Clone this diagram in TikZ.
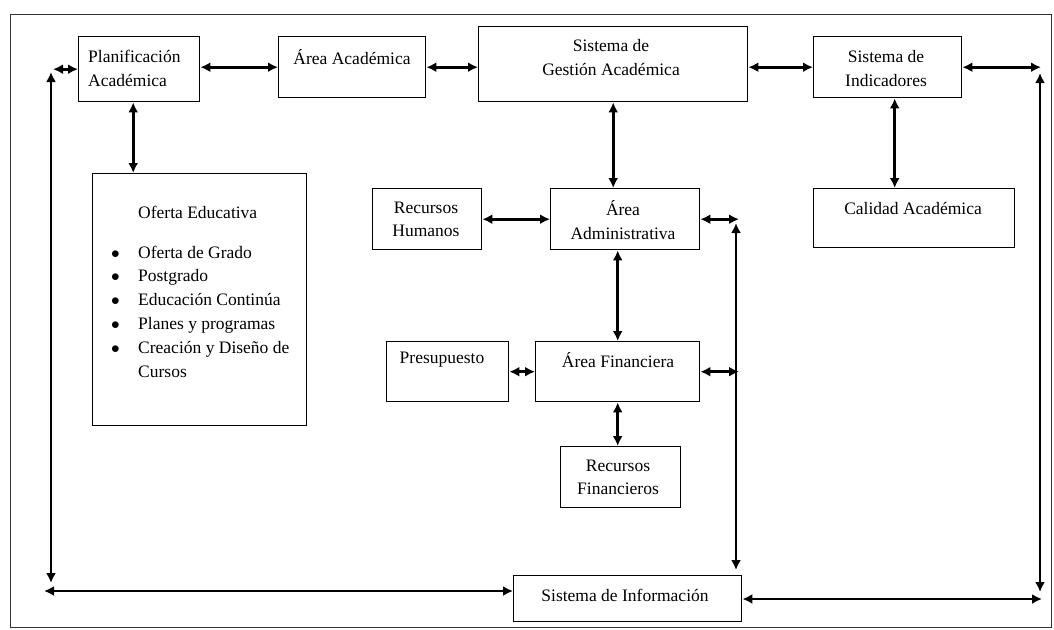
\documentclass[tikz,border=0pt]{standalone}
\usepackage{fontspec}
\setmainfont{Liberation Serif}
\usetikzlibrary{arrows.meta}
\begin{document}
\begin{tikzpicture}[x=1pt,y=-1pt,
  box/.style={draw, line width=1.4pt, anchor=north west, inner sep=0pt},
  txt/.style={inner sep=0pt, align=center, font=\fontsize{17.5}{23.5}\selectfont},
  conn/.style={{Latex[length=10pt,width=10pt]}-{Latex[length=10pt,width=10pt]}, line width=2.6pt}]
\useasboundingbox (0,0) rectangle (1054,629);
\draw[line width=1pt, black!80] (10,14) rectangle (1051,627);

% boxes
\node[box, minimum width=121pt, minimum height=65pt] (plan) at (78,36) {};
\node[box, minimum width=147pt, minimum height=61pt] (acad) at (278,36) {};
\node[box, minimum width=269pt, minimum height=75pt] (sga) at (478,26) {};
\node[box, minimum width=148pt, minimum height=61pt] (sind) at (813,36) {};
\node[box, minimum width=214pt, minimum height=252pt] (of) at (92,173) {};
\node[box, minimum width=109pt, minimum height=61pt] (rh) at (372,188) {};
\node[box, minimum width=149pt, minimum height=61pt] (adm) at (550,188) {};
\node[box, minimum width=201pt, minimum height=59pt] (cal) at (813,188) {};
\node[box, minimum width=122pt, minimum height=60pt] (pres) at (386,341) {};
\node[box, minimum width=164pt, minimum height=60pt] (fin) at (535,341) {};
\node[box, minimum width=120pt, minimum height=61pt] (rf) at (560,446) {};
\node[box, minimum width=228pt, minimum height=46pt] (info) at (513,575) {};

% labels
\node[txt, align=left, anchor=west] at (88,68.5) {Planificación\\Académica};
\node[txt] at (352,57) {Área Académica};
\node[txt] at (611,57.5) {Sistema de\\Gestión Académica};
\node[txt] at (886,68.5) {Sistema de\\Indicadores};
\node[txt, anchor=west] at (138,212) {Oferta Educativa};
\node[txt, align=left, anchor=west, font=\fontsize{17.5}{23.8}\selectfont] at (111,311.5)
  {\makebox[27pt][l]{$\bullet$}Oferta de Grado\\
   \makebox[27pt][l]{$\bullet$}Postgrado\\
   \makebox[27pt][l]{$\bullet$}Educación Continúa\\
   \makebox[27pt][l]{$\bullet$}Planes y programas\\
   \makebox[27pt][l]{$\bullet$}Creación y Diseño de\\
   \hspace*{27pt}Cursos};
\node[txt] at (426,219.5) {Recursos\\Humanos};
\node[txt] at (623,220) {Área\\Administrativa};
\node[txt] at (913,208) {Calidad Académica};
\node[txt] at (442,360) {Presupuesto};
\node[txt] at (618,360) {Área Financiera};
\node[txt] at (618,477.5) {Recursos\\Financieros};
\node[txt] at (625,595) {Sistema de Información};

% free ends of the outer loop
\coordinate (lA) at (53,67);
\coordinate (lT) at (51,72);
\coordinate (lB) at (51,583);
\coordinate (lH) at (44,591);
\coordinate (rA) at (1041,67);
\coordinate (rT) at (1040,73);
\coordinate (rB) at (1040,592);
\coordinate (rH) at (1042,599);
\coordinate (mR) at (739,0);
\coordinate (mT) at (736,223);
\coordinate (mB) at (736,570);

% top row
\draw[conn] (lA |- plan.west) -- (plan.west);
\draw[conn] (plan.east |- acad.west) -- (acad.west);
\draw[conn] (acad.east) -- (acad.east -| sga.west);
\draw[conn] (sga.east |- sind.west) -- (sind.west);
\draw[conn] (sind.east) -- (sind.east -| rA);

% verticals
\draw[conn] ([xshift=-6pt]plan.south) -- ([xshift=-6pt]plan.south |- of.north);
\draw[conn] (sga.south) -- (sga.south |- adm.north);
\draw[conn] ([xshift=7pt]sind.south) -- ([xshift=7pt]sind.south |- cal.north);
\draw[conn] (fin.north |- adm.south) -- (fin.north);
\draw[conn] (fin.south) -- (fin.south |- rf.north);

% middle row links
\draw[conn] (rh.east) -- (rh.east -| adm.west);
\draw[conn] (pres.east) -- (fin.west);
\draw[conn] (adm.east) -- (adm.east -| mR);
\draw[conn] (fin.east) -- (fin.east -| mR);

% outer loop
\draw[conn] (lT) -- (lB);
\draw[conn] (lH) -- (lH -| info.west);
\draw[conn] (rT) -- (rB);
\draw[conn] (rH -| info.east) -- (rH);
\draw[conn] (mT) -- (mB);
\end{tikzpicture}
\end{document}
